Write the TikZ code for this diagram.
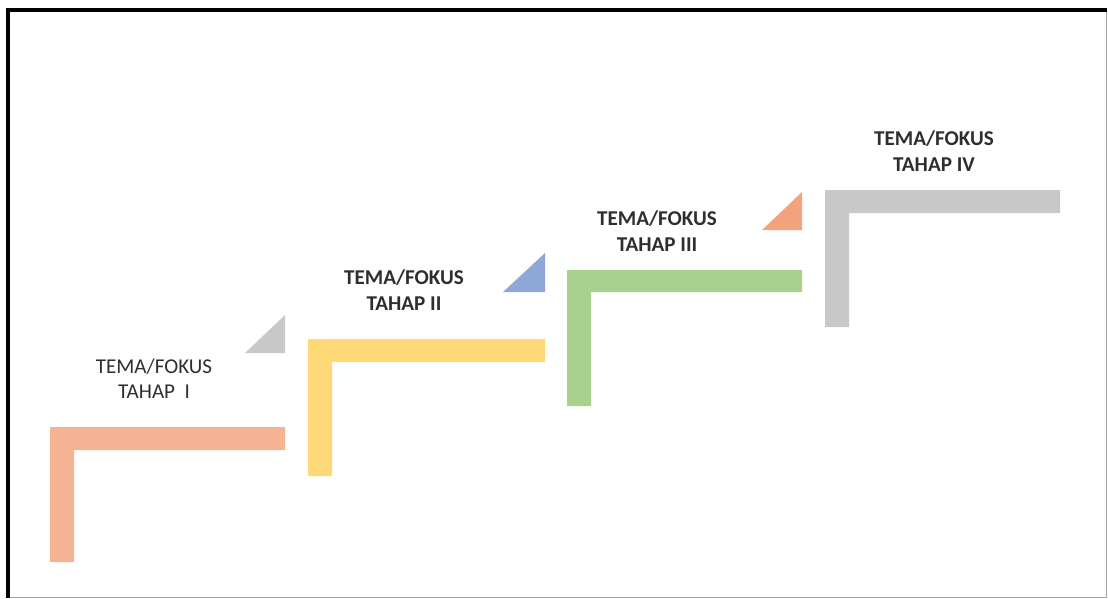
\documentclass[tikz,border=0pt]{standalone}
\usepackage{fontspec}
\setmainfont{Carlito}
\definecolor{salmon}{HTML}{F6B393}
\definecolor{gold}{HTML}{FFD978}
\definecolor{leaf}{HTML}{A9D18E}
\definecolor{ash}{HTML}{C8C8C8}
\definecolor{steel}{HTML}{8EA6D8}
\definecolor{peach}{HTML}{F4A27C}
\definecolor{ink}{HTML}{2E2E2E}
\begin{document}
\begin{tikzpicture}[x=0.025cm,y=-0.025cm,
  label/.style={align=center,text=ink,font=\fontsize{15}{18}\selectfont}]
  \useasboundingbox (0,0) rectangle (1108,598);
  % frame
  \draw[line width=0.6pt,color=black!35] (1106.5,9) -- (1106.5,597.5) -- (8,597.5);
  \draw[line width=2.2pt,color=black] (8,598) -- (8,10) -- (1107,10);
  % steps
  \fill[salmon] (50,427) -- (285,427) -- (285,450) -- (74,450) -- (74,562) -- (50,562) -- cycle;
  \fill[gold] (308,339) -- (545,339) -- (545,362) -- (332,362) -- (332,476) -- (308,476) -- cycle;
  \fill[leaf] (567,270) -- (802,270) -- (802,292) -- (591,292) -- (591,406) -- (567,406) -- cycle;
  \fill[ash] (825,190) -- (1060,190) -- (1060,213) -- (849,213) -- (849,327) -- (825,327) -- cycle;
  % corner triangles
  \fill[ash] (245,353) -- (285,353) -- (285,315) -- cycle;
  \fill[steel] (503,292) -- (545,292) -- (545,253) -- cycle;
  \fill[peach] (762,230) -- (802,230) -- (802,192) -- cycle;
  % labels
  \node[label] (tahap1) at (154,379) {TEMA/FOKUS\\TAHAP\ \ I};
  \node[label,font=\fontsize{15}{18}\selectfont\bfseries] (tahap2) at (404,290) {TEMA/FOKUS\\TAHAP II};
  \node[label,font=\fontsize{15}{18}\selectfont\bfseries] (tahap3) at (657,231) {TEMA/FOKUS\\TAHAP III};
  \node[label,font=\fontsize{15}{18}\selectfont\bfseries] (tahap4) at (934,151) {TEMA/FOKUS\\TAHAP IV};
\end{tikzpicture}
\end{document}
